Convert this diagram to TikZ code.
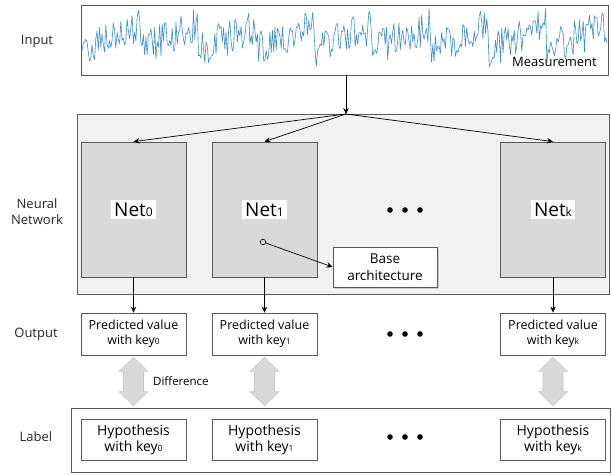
\documentclass[tikz,border=0pt]{standalone}
\usepackage{fontspec}
\setmainfont{Open Sans}
\usetikzlibrary{shadows,arrows.meta,calc}
\definecolor{edge}{HTML}{595959}
\definecolor{panel}{HTML}{F2F2F2}
\definecolor{netfill}{HTML}{D9D9D9}
\definecolor{sig}{HTML}{3A8DD6}
\definecolor{dbl}{HTML}{D9D9D9}
\definecolor{dbledge}{HTML}{C8C8C8}
\newcommand{\sbx}[1]{{\fontsize{8.5}{9}\selectfont #1}}
\newcommand{\nsbx}[1]{{\fontsize{12}{12}\selectfont #1}}
\begin{document}
\begin{tikzpicture}[x=1pt,y=-1pt,
  box/.style={draw=edge, line width=0.8pt, fill=white, inner sep=0pt, align=center},
  netbox/.style={draw=edge, line width=0.8pt, fill=netfill, minimum width=105pt, minimum height=135pt, inner sep=0pt},
  netlabel/.style={fill=white, inner sep=3pt, font=\fontsize{19}{20}\selectfont},
  predbox/.style={box, minimum width=105pt, minimum height=42pt, font=\fontsize{12.5}{15}\selectfont},
  hypbox/.style={box, minimum width=105pt, minimum height=41pt, font=\fontsize{14}{16}\selectfont},
  sidelabel/.style={align=center, font=\fontsize{13}{16}\selectfont, text=black!85},
  conn/.style={draw=black, line width=0.7pt, -{Stealth[length=6pt,width=5.5pt]}},
]
\useasboundingbox (0,0) rectangle (612,474);
\fill[white] (0,0) rectangle (612,474);

% input
\node[box, minimum width=527pt, minimum height=70pt] (input) at (344.5,40) {};
\pgfmathsetseed{11}
\begin{scope}
\clip (81.5,5.5) rectangle (607.5,74.5);
\draw[sig, line width=0.6pt, line join=round] plot[domain=82:607, samples=420] (\x, {50 - 24*mod(\x-82,58)/58 + 18*rand});
\end{scope}
\node[anchor=east, font=\fontsize{13}{15}\selectfont, inner sep=0pt] (meas) at (597,62) {Measurement};

% panel
\node[draw=edge, line width=0.8pt, fill=panel, minimum width=532pt, minimum height=180pt, inner sep=0pt] (panel) at (343,204) {};
\coordinate (j) at (346,114);

\node[netbox] (n0) at (133.5,209.5) {};
\node[netbox] (n1) at (264.5,209.5) {};
\node[netbox] (nk) at (553,209.5) {};
\node[netlabel] (l0) at (n0) {Net\nsbx{0}};
\node[netlabel] (l1) at (n1) {Net\nsbx{1}};
\node[netlabel] (lk) at (nk) {Net\nsbx{k}};

\draw[conn] (input.south -| j) -- (j);
\draw[conn] (j) -- (n0.north);
\draw[conn] (j) -- (n1.north);
\draw[conn] (j) -- (nk.north);

\foreach \xx in {390,405,420} {\fill (\xx,210) circle (2.8pt);}

\node[box, minimum width=104pt, minimum height=40pt, font=\fontsize{13.5}{17}\selectfont,
  drop shadow={shadow xshift=1.5pt, shadow yshift=-1.5pt, opacity=0.35}] (base) at (385,267) {Base\\architecture};
\node[circle, draw=black, line width=0.6pt, fill=netfill, minimum size=5.5pt, inner sep=0pt] (c) at (263,242) {};
\draw[conn] (c) -- (base.west);

% outputs
\node[predbox] (p0) at (133.5,334) {Predicted value\\with key\sbx{0}};
\node[predbox] (p1) at (264.5,334) {Predicted value\\with key\sbx{1}};
\node[predbox] (pk) at (553,334) {Predicted value\\with key\sbx{k}};
\draw[conn] (n0.south) -- (p0.north);
\draw[conn] (n1.south) -- (p1.north);
\draw[conn] (nk.south) -- (pk.north);
\foreach \xx in {390,405,420} {\fill (\xx,334) circle (2.8pt);}

% label box
\node[draw=edge, line width=0.8pt, minimum width=539pt, minimum height=64pt, inner sep=0pt] (lab) at (340.5,440) {};
\node[hypbox] (h0) at (133.5,439.5) {Hypothesis\\with key\sbx{0}};
\node[hypbox] (h1) at (264.5,439.5) {Hypothesis\\with key\sbx{1}};
\node[hypbox] (hk) at (553,439.5) {Hypothesis\\with key\sbx{k}};
\foreach \xx in {390,405,420} {\fill (\xx,437) circle (2.8pt);}

% double arrows
\foreach \nm in {p0,p1,pk} {
  \path (\nm.south) ++(0,2) coordinate (t-\nm);
  \path (t-\nm |- lab.north) ++(0,-2) coordinate (b-\nm);
  \draw[dbledge, fill=dbl, line width=0.6pt, line join=miter]
    (t-\nm) -- ++(14.5,14) -- ++(-4.5,0) -- ($(b-\nm)+(10,-14)$) -- ++(4.5,0) -- (b-\nm)
    -- ++(-14.5,-14) -- ++(4.5,0) -- ($(t-\nm)+(-10,14)$) -- ++(-4.5,0) -- cycle;
}
\node[anchor=west, font=\fontsize{11.5}{14}\selectfont, inner sep=0pt] (diff) at (153,381) {Difference};

% side labels
\node[sidelabel] (sInput) at (37,41) {Input};
\node[sidelabel] (sNN) at (37,212) {Neural\\Network};
\node[sidelabel] (sOut) at (36,334) {Output};
\node[sidelabel] (sLab) at (36,437) {Label};
\end{tikzpicture}
\end{document}
